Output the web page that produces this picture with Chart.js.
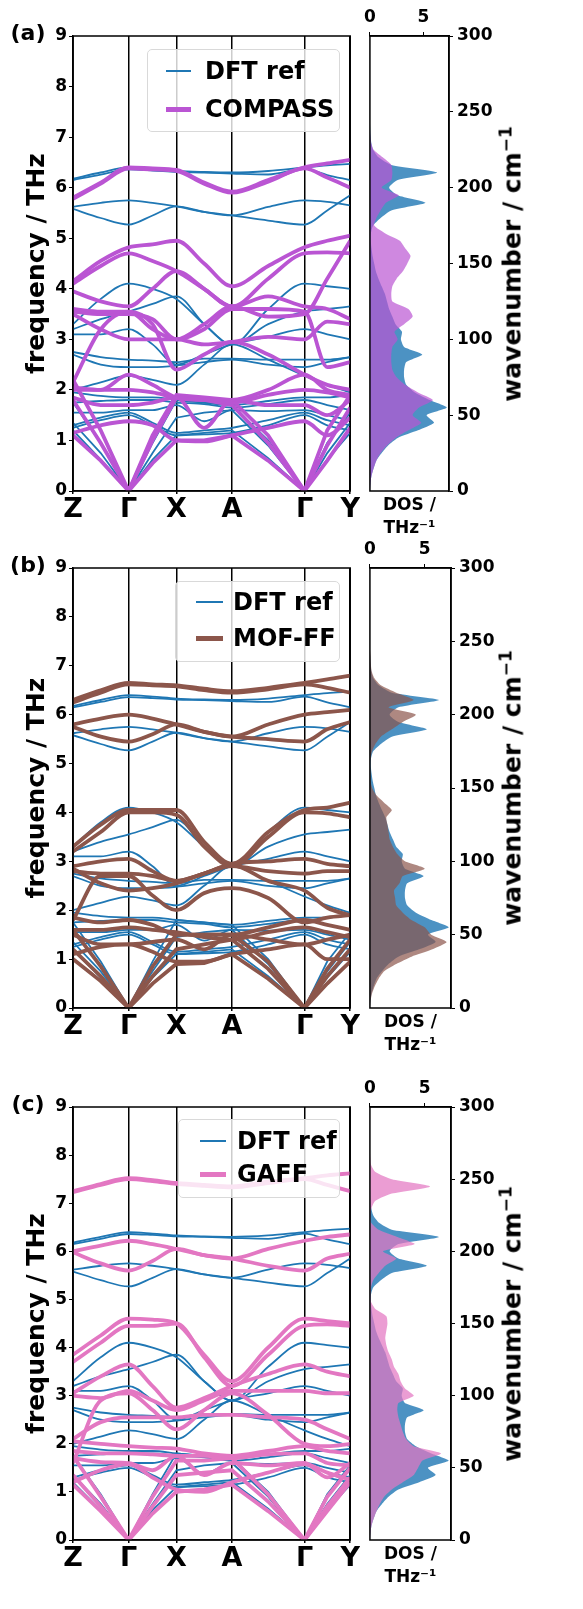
<!DOCTYPE html>
<html>
<head>
<meta charset="utf-8">
<script src="https://cdn.jsdelivr.net/npm/chart.js@4.4.1/dist/chart.umd.min.js"></script>
<style>
  body { margin: 0; background: #fff; width: 583px; height: 1609px; position: relative; overflow: hidden; font-family: "DejaVu Sans", sans-serif; }
  canvas { position: absolute; }
  .txt { position: absolute; font-weight: bold; color: #000; white-space: nowrap; }
  .leg { position: absolute; background: rgba(255,255,255,0.8); border: 1px solid #d9d9d9; border-radius: 5px; box-sizing: border-box; }
  .leg .sw { position: absolute; }
  .leg .lt { position: absolute; font-weight: bold; font-size: 24px; line-height: 24px; transform: translateY(-50%); white-space: nowrap; }
</style>
</head>
<body>
<script>
// k-path: sample positions along Z-G-X-A-G-Y (normalised path length)
const kPts = [0, 0.10, 0.2007, 0.287, 0.3728, 0.473, 0.5735, 0.704, 0.835, 0.917, 1.0];
const kTicks = [0, 0.2007, 0.3728, 0.5735, 0.835, 1.0];
const kLabels = ['Z', 'Γ', 'X', 'A', 'Γ', 'Y'];

// frequencies (THz) of each band at kPts
const dftBands = [
  [6.18, 6.30, 6.40, 6.37, 6.33, 6.31, 6.30, 6.33, 6.40, 6.44, 6.47],
  [6.15, 6.26, 6.36, 6.34, 6.31, 6.30, 6.28, 6.26, 6.37, 6.25, 6.15],
  [5.62, 5.70, 5.75, 5.70, 5.63, 5.52, 5.45, 5.62, 5.75, 5.72, 5.65],
  [5.58, 5.40, 5.27, 5.45, 5.63, 5.52, 5.45, 5.35, 5.27, 5.55, 5.85],
  [3.30, 3.80, 4.10, 4.00, 3.80, 3.30, 2.90, 3.60, 4.10, 4.05, 4.00],
  [3.20, 3.40, 3.55, 3.70, 3.85, 3.30, 2.90, 3.30, 3.55, 3.60, 3.65],
  [3.10, 3.10, 3.20, 2.90, 2.50, 2.70, 2.90, 3.05, 3.20, 3.10, 3.00],
  [2.75, 2.65, 2.60, 2.58, 2.55, 2.62, 2.62, 2.60, 2.60, 2.60, 2.65],
  [2.70, 2.50, 2.45, 2.45, 2.48, 2.55, 2.60, 2.50, 2.45, 2.55, 2.65],
  [2.00, 2.15, 2.28, 2.20, 2.10, 2.50, 2.90, 2.60, 2.28, 2.10, 1.95],
  [1.95, 1.88, 1.85, 1.85, 1.80, 1.75, 1.70, 1.78, 1.85, 1.85, 1.90],
  [1.75, 1.78, 1.80, 1.80, 1.75, 1.72, 1.65, 1.72, 1.80, 1.70, 1.60],
  [1.55, 1.55, 1.60, 1.60, 1.70, 1.38, 1.60, 1.58, 1.60, 1.50, 1.40],
  [1.30, 1.45, 1.55, 1.35, 1.15, 1.20, 1.25, 1.40, 1.55, 1.40, 1.30],
  [1.25, 1.40, 1.50, 1.30, 1.10, 1.12, 1.15, 1.30, 1.50, 1.30, 1.20],
  [1.20, 0.62, 0, 0.62, 1.10, 1.15, 1.20, 0.65, 0, 0.62, 1.15],
  [1.35, 0.75, 0, 0.75, 1.45, 1.55, 1.60, 0.90, 0, 0.75, 1.35],
  [1.75, 0.95, 0, 0.95, 1.80, 1.75, 1.70, 1.00, 0, 0.95, 1.55]
];

const compassBands = [
  [5.80, 6.10, 6.40, 6.38, 6.35, 6.10, 5.92, 6.15, 6.40, 6.48, 6.55],
  [5.78, 6.08, 6.38, 6.36, 6.33, 6.08, 5.90, 6.12, 6.38, 6.20, 6.00],
  [4.15, 4.55, 4.82, 4.88, 4.95, 4.50, 4.05, 4.45, 4.82, 4.95, 5.05],
  [4.10, 4.45, 4.70, 4.55, 4.35, 4.00, 3.65, 4.20, 4.70, 4.72, 4.70],
  [3.95, 3.75, 3.65, 4.00, 4.35, 4.00, 3.65, 3.85, 3.65, 3.60, 3.40],
  [3.60, 3.55, 3.55, 3.20, 3.00, 3.30, 3.65, 3.45, 3.50, 4.20, 4.95],
  [3.55, 3.50, 3.50, 3.40, 3.00, 3.20, 3.60, 3.60, 3.55, 2.45, 2.55],
  [3.50, 3.20, 3.00, 3.00, 3.00, 2.90, 2.95, 3.05, 3.00, 3.35, 3.30],
  [2.15, 3.20, 3.55, 3.30, 2.40, 2.70, 2.95, 2.70, 2.30, 2.10, 2.00],
  [2.05, 2.00, 2.30, 2.10, 1.85, 1.80, 1.80, 2.00, 2.30, 2.00, 1.90],
  [2.00, 2.00, 2.00, 1.95, 1.85, 1.82, 1.75, 1.90, 2.00, 1.95, 1.85],
  [1.85, 1.70, 1.70, 1.75, 1.85, 1.25, 1.80, 1.70, 1.70, 1.50, 1.80],
  [1.15, 1.30, 1.38, 1.30, 1.00, 0.98, 1.10, 1.25, 1.38, 1.10, 1.45],
  [1.10, 0.60, 0, 0.55, 1.00, 1.00, 1.10, 0.60, 0, 0.60, 1.25],
  [1.80, 0.95, 0, 1.00, 1.85, 1.80, 1.70, 0.95, 0, 0.90, 1.65],
  [2.20, 1.20, 0, 1.10, 1.90, 1.85, 1.80, 1.10, 0, 1.20, 1.90]
];

const mofffBands = [
  [6.30, 6.50, 6.65, 6.62, 6.60, 6.53, 6.48, 6.55, 6.65, 6.72, 6.80],
  [6.25, 6.45, 6.62, 6.60, 6.58, 6.50, 6.45, 6.52, 6.62, 6.55, 6.45],
  [5.80, 5.92, 6.00, 5.92, 5.80, 5.65, 5.55, 5.80, 6.00, 6.05, 6.10],
  [5.75, 5.55, 5.45, 5.60, 5.80, 5.65, 5.55, 5.50, 5.45, 5.70, 5.85],
  [3.30, 3.75, 4.05, 4.05, 4.05, 3.40, 2.95, 3.60, 4.05, 4.10, 4.20],
  [3.20, 3.60, 4.00, 4.00, 3.95, 3.30, 2.90, 3.50, 4.00, 3.98, 3.90],
  [2.90, 3.00, 3.05, 2.80, 2.60, 2.75, 2.95, 3.00, 3.05, 2.95, 2.90],
  [2.80, 2.75, 2.75, 2.70, 2.60, 2.75, 2.90, 2.80, 2.75, 2.80, 2.80],
  [2.85, 2.55, 2.40, 2.45, 2.55, 2.75, 2.92, 2.60, 2.40, 2.05, 1.90],
  [1.80, 2.70, 2.70, 2.30, 2.00, 2.35, 2.45, 2.25, 1.75, 1.85, 1.90],
  [1.85, 1.75, 1.80, 1.70, 1.50, 1.50, 1.50, 1.65, 1.80, 1.70, 1.60],
  [1.60, 1.60, 1.65, 1.60, 1.55, 1.45, 1.40, 1.55, 1.65, 1.55, 1.45],
  [1.50, 1.30, 1.30, 1.35, 1.40, 1.20, 1.50, 1.40, 1.30, 1.40, 1.50],
  [1.10, 1.25, 1.30, 1.15, 0.95, 0.95, 1.10, 1.20, 1.30, 1.00, 1.00],
  [1.00, 0.55, 0, 0.50, 0.90, 0.92, 1.10, 0.60, 0, 0.50, 0.95],
  [1.20, 0.65, 0, 0.65, 1.20, 1.30, 1.40, 0.80, 0, 0.65, 1.20],
  [1.60, 0.85, 0, 0.85, 1.50, 1.50, 1.50, 0.95, 0, 0.80, 1.40]
];

const gaffBands = [
  [7.25, 7.40, 7.52, 7.48, 7.42, 7.38, 7.35, 7.45, 7.52, 7.58, 7.62],
  [7.23, 7.38, 7.50, 7.46, 7.40, 7.36, 7.33, 7.42, 7.50, 7.38, 7.25],
  [6.00, 6.12, 6.22, 6.15, 6.05, 5.92, 5.85, 6.05, 6.22, 6.30, 6.35],
  [5.98, 5.75, 5.60, 5.80, 6.05, 5.92, 5.85, 5.70, 5.60, 5.85, 5.95],
  [3.85, 4.25, 4.60, 4.58, 4.50, 3.85, 3.30, 4.00, 4.60, 4.55, 4.50],
  [3.70, 4.10, 4.45, 4.45, 4.50, 3.80, 3.20, 3.85, 4.45, 4.48, 4.45],
  [3.05, 3.40, 3.65, 3.20, 2.75, 2.95, 3.20, 3.45, 3.65, 3.50, 3.40],
  [3.00, 2.95, 3.10, 2.90, 2.70, 2.90, 3.10, 3.10, 3.10, 3.05, 3.05],
  [2.10, 2.45, 2.55, 2.55, 2.55, 2.60, 2.60, 2.55, 2.50, 2.30, 2.10],
  [1.60, 2.90, 3.05, 2.70, 2.30, 2.70, 3.05, 2.60, 2.00, 1.95, 2.00],
  [2.05, 2.00, 1.95, 1.92, 1.90, 1.80, 1.75, 1.85, 1.95, 1.85, 1.80],
  [1.85, 1.80, 1.80, 1.78, 1.75, 1.75, 1.70, 1.78, 1.80, 1.60, 1.55],
  [1.70, 1.62, 1.60, 1.45, 1.75, 1.35, 1.60, 1.55, 1.60, 1.30, 1.60],
  [1.20, 1.45, 1.58, 1.30, 1.05, 1.00, 1.20, 1.40, 1.58, 1.40, 1.25],
  [1.15, 0.60, 0, 0.55, 1.00, 1.05, 1.15, 0.60, 0, 0.60, 1.20],
  [1.35, 0.70, 0, 0.70, 1.35, 1.40, 1.45, 0.80, 0, 0.70, 1.30],
  [1.75, 0.90, 0, 0.90, 1.65, 1.65, 1.70, 0.95, 0, 0.90, 1.50]
];

// density of states, sampled on a wavenumber grid (cm^-1)
const dosWn = [0, 5, 10, 15, 20, 25, 30, 35, 40, 45,
  50, 55, 60, 65, 70, 75, 80, 85, 90, 95,
  100, 105, 110, 115, 120, 125, 130, 135, 140, 145,
  150, 155, 160, 165, 170, 175, 180, 185, 190, 195,
  200, 205, 210, 215, 220, 225, 230, 235, 240, 245,
  250, 255, 260, 265, 270];
const dftDos = [0, 0.05, 0.15, 0.35, 0.6, 1.1, 1.7, 2.6, 4.5, 6.0,
  5.3, 7.2, 5.6, 4.2, 3.4, 3.2, 3.2, 3.4, 4.9, 3.2,
  2.9, 3.0, 2.4, 2.1, 1.8, 1.6, 1.4, 1.1, 0.8, 0.55,
  0.4, 0.25, 0.15, 0.08, 0.1, 0.3, 1.0, 2.0, 5.2, 2.6,
  1.8, 2.6, 6.3, 2.0, 0.8, 0.3, 0.12, 0.05, 0.02, 0,
  0, 0, 0, 0, 0];
const compassDos = [0, 0.05, 0.15, 0.35, 0.6, 1.0, 1.6, 2.4, 3.6, 4.8,
  4.0, 4.6, 5.9, 4.5, 3.3, 2.5, 2.1, 2.0, 2.0, 2.1,
  2.6, 2.3, 3.2, 4.0, 3.6, 2.1, 2.0, 2.1, 2.5, 3.1,
  3.5, 3.8, 3.3, 2.8, 1.4, 0.4, 0.6, 1.0, 1.5, 2.7,
  1.1, 2.0, 2.1, 2.0, 1.2, 0.35, 0.1, 0.03, 0, 0,
  0, 0, 0, 0, 0];
const mofffDos = [0, 0.06, 0.2, 0.45, 0.8, 1.3, 2.4, 3.8, 5.7, 7.0,
  5.6, 5.0, 3.8, 3.0, 2.4, 2.3, 2.2, 2.7, 3.0, 5.0,
  3.2, 2.5, 2.1, 1.8, 1.7, 1.6, 1.5, 2.0, 1.3, 0.6,
  0.2, 0.05, 0.03, 0.02, 0.05, 0.2, 0.5, 1.0, 2.0, 3.0,
  4.2, 1.7, 4.0, 2.4, 1.0, 0.4, 0.15, 0.08, 0.05, 0,
  0, 0, 0, 0, 0];
const gaffDos = [0, 0.05, 0.15, 0.35, 0.6, 0.9, 1.3, 2.0, 3.0, 4.0,
  4.4, 4.8, 6.5, 4.0, 3.3, 3.0, 2.8, 2.6, 2.5, 2.6,
  4.0, 3.2, 2.8, 2.6, 2.2, 2.0, 1.7, 1.5, 1.4, 1.5,
  1.6, 1.5, 0.5, 0.1, 0.05, 0.1, 0.3, 0.8, 1.4, 2.4,
  1.2, 4.1, 2.5, 0.8, 0.1, 0.05, 0.15, 0.5, 2.0, 5.5,
  2.0, 0.5, 0.1, 0.03, 0];

const DFT_COLOR = '#1f77b4';
const DFT_FILL = 'rgba(31,119,180,0.8)';

const panels = [
  { letter: '(a)', top: 36, bottom: 491, dosRight: 449, name: 'COMPASS', bands: compassBands, dos: compassDos,
    color: '#ba55d3', fill: 'rgba(186,85,211,0.7)',
    leg: { l: 147, t: 49, w: 193, h: 83, r1: 21, r2: 59, sx: 18, sw: 25, tx: 57 } },
  { letter: '(b)', top: 568, bottom: 1008, dosRight: 451, name: 'MOF-FF', bands: mofffBands, dos: mofffDos,
    color: '#8c564b', fill: 'rgba(140,86,75,0.7)',
    leg: { l: 175, t: 581, w: 165, h: 81, r1: 20, r2: 56, sx: 20, sw: 27, tx: 57 } },
  { letter: '(c)', top: 1107, bottom: 1540, dosRight: 451, name: 'GAFF', bands: gaffBands, dos: gaffDos,
    color: '#e377c2', fill: 'rgba(227,119,194,0.72)',
    leg: { l: 178, t: 1119, w: 162, h: 79, r1: 21, r2: 54, sx: 21, sw: 26, tx: 58 } }
];

Chart.defaults.font.family = '"DejaVu Sans", sans-serif';
Chart.defaults.color = '#000';

const framePlugin = {
  id: 'frame',
  afterDraw(chart) {
    const { ctx, chartArea: a } = chart;
    ctx.save();
    ctx.strokeStyle = '#000';
    ctx.lineWidth = 1.5;
    ctx.strokeRect(a.left, a.top, a.right - a.left, a.bottom - a.top);
    ctx.restore();
  }
};

const tickFont = { size: 17, weight: 'bold' };

function addCanvas(left, top, w, h) {
  const c = document.createElement('canvas');
  c.width = w; c.height = h;
  c.style.left = left + 'px'; c.style.top = top + 'px';
  document.body.appendChild(c);
  return c;
}

function addText(html, css) {
  const d = document.createElement('div');
  d.className = 'txt';
  d.innerHTML = html;
  Object.assign(d.style, css);
  document.body.appendChild(d);
  return d;
}

function bandSets(bands, color, width, order) {
  return bands.map(b => Object.assign({
    data: b.map((f, j) => ({ x: kPts[j], y: f })),
    borderColor: color,
    borderWidth: width,
    pointRadius: 0,
    fill: false,
    order: order
  }, b.includes(0) ? { tension: 0 } : { cubicInterpolationMode: 'monotone' }));
}

function makePanel(p) {
  // band structure
  const bTop = p.top - 36;
  const bH = p.bottom + 50 - bTop;
  new Chart(addCanvas(0, bTop, 360, bH), {
    type: 'line',
    data: { datasets: bandSets(dftBands, DFT_COLOR, 1.8, 1).concat(bandSets(p.bands, p.color, 3.8, 0)) },
    options: {
      responsive: false, animation: false, events: [],
      layout: { padding: { top: 36, right: 8, left: 0, bottom: 0 } },
      plugins: { legend: { display: false }, tooltip: { enabled: false } },
      scales: {
        x: {
          type: 'linear', min: 0, max: 1, z: 1,
          afterBuildTicks: s => { s.ticks = kTicks.map(v => ({ value: v })); },
          afterFit: s => { s.height = 50; },
          ticks: { autoSkip: false, maxRotation: 0, padding: 0, font: { size: 27, weight: 'bold' },
                   callback: (v, i) => kLabels[i] },
          grid: { color: '#000', lineWidth: 1.5, tickLength: 3, tickColor: '#000' },
          border: { color: '#000', width: 1.5 }
        },
        y: {
          type: 'linear', min: 0, max: 9,
          afterFit: s => { s.width = 73; },
          ticks: { stepSize: 1, padding: 2, font: tickFont },
          grid: { drawOnChartArea: false, tickLength: 4, tickColor: '#000' },
          border: { color: '#000', width: 1.5 },
          title: { display: true, text: 'frequency / THz', font: { size: 25, weight: 'bold' }, padding: { top: 22, bottom: 0 } }
        }
      }
    },
    plugins: [framePlugin]
  });

  // density of states
  const dH = 36 + (p.bottom - p.top) + 50;
  new Chart(addCanvas(360, bTop, 223, dH), {
    type: 'line',
    data: { datasets: [
      { data: dosWn.map((w, i) => ({ x: dftDos[i], y: w })), backgroundColor: DFT_FILL, borderWidth: 0,
        fill: 'origin', pointRadius: 0, tension: 0.2, order: 1 },
      { data: dosWn.map((w, i) => ({ x: p.dos[i], y: w })), backgroundColor: p.fill, borderWidth: 0,
        fill: 'origin', pointRadius: 0, tension: 0.2, order: 0 }
    ] },
    options: {
      indexAxis: 'y',
      responsive: false, animation: false, events: [],
      layout: { padding: { top: 0, right: 0, left: 8, bottom: 0 } },
      plugins: { legend: { display: false }, tooltip: { enabled: false } },
      scales: {
        x: {
          type: 'linear', position: 'top', min: 0, max: 7.4,
          afterFit: s => { s.height = 36; },
          ticks: { stepSize: 5, includeBounds: false, padding: 4, font: tickFont },
          grid: { drawOnChartArea: false, tickLength: 4, tickColor: '#000' },
          border: { color: '#000', width: 1.5 }
        },
        x2: {
          type: 'linear', position: 'bottom', axis: 'x',
          afterFit: s => { s.height = 50; },
          ticks: { display: false },
          grid: { display: false },
          border: { display: false },
          title: { display: true, text: ['DOS /', 'THz⁻¹'], font: { size: 17, weight: 'bold', lineHeight: 1.35 },
                   padding: { top: 0, bottom: 1 } }
        },
        y: {
          type: 'linear', position: 'right', min: 0, max: 300,
          afterFit: s => { s.width = 223 - (p.dosRight - 360); },
          ticks: { stepSize: 50, padding: 4, font: tickFont },
          grid: { drawOnChartArea: false, tickLength: 4, tickColor: '#000' },
          border: { color: '#000', width: 1.5 }
        }
      }
    },
    plugins: [framePlugin]
  });

  // right-hand axis title, reading bottom to top
  addText('wavenumber / cm<sup style="font-size:17px;vertical-align:9px">−1</sup>', {
    left: '511px', top: ((p.top + p.bottom) / 2) + 'px', fontSize: '25px',
    transform: 'translate(-50%,-50%) rotate(-90deg)'
  });

  // panel letter
  addText(p.letter, { left: '28px', top: (p.top - 4) + 'px', fontSize: '22px', transform: 'translate(-50%,-50%)' });

  // legend inside the band plot
  const L = p.leg;
  const box = document.createElement('div');
  box.className = 'leg';
  Object.assign(box.style, { left: L.l + 'px', top: L.t + 'px', width: L.w + 'px', height: L.h + 'px' });
  box.innerHTML =
    `<div class="sw" style="left:${L.sx}px;top:${L.r1 - 1}px;width:${L.sw}px;height:2px;background:${DFT_COLOR}"></div>` +
    `<div class="lt" style="left:${L.tx}px;top:${L.r1}px">DFT ref</div>` +
    `<div class="sw" style="left:${L.sx}px;top:${L.r2 - 2}px;width:${L.sw}px;height:5px;background:${p.color}"></div>` +
    `<div class="lt" style="left:${L.tx}px;top:${L.r2}px">${p.name}</div>`;
  document.body.appendChild(box);
}

panels.forEach(makePanel);
</script>
</body>
</html>
